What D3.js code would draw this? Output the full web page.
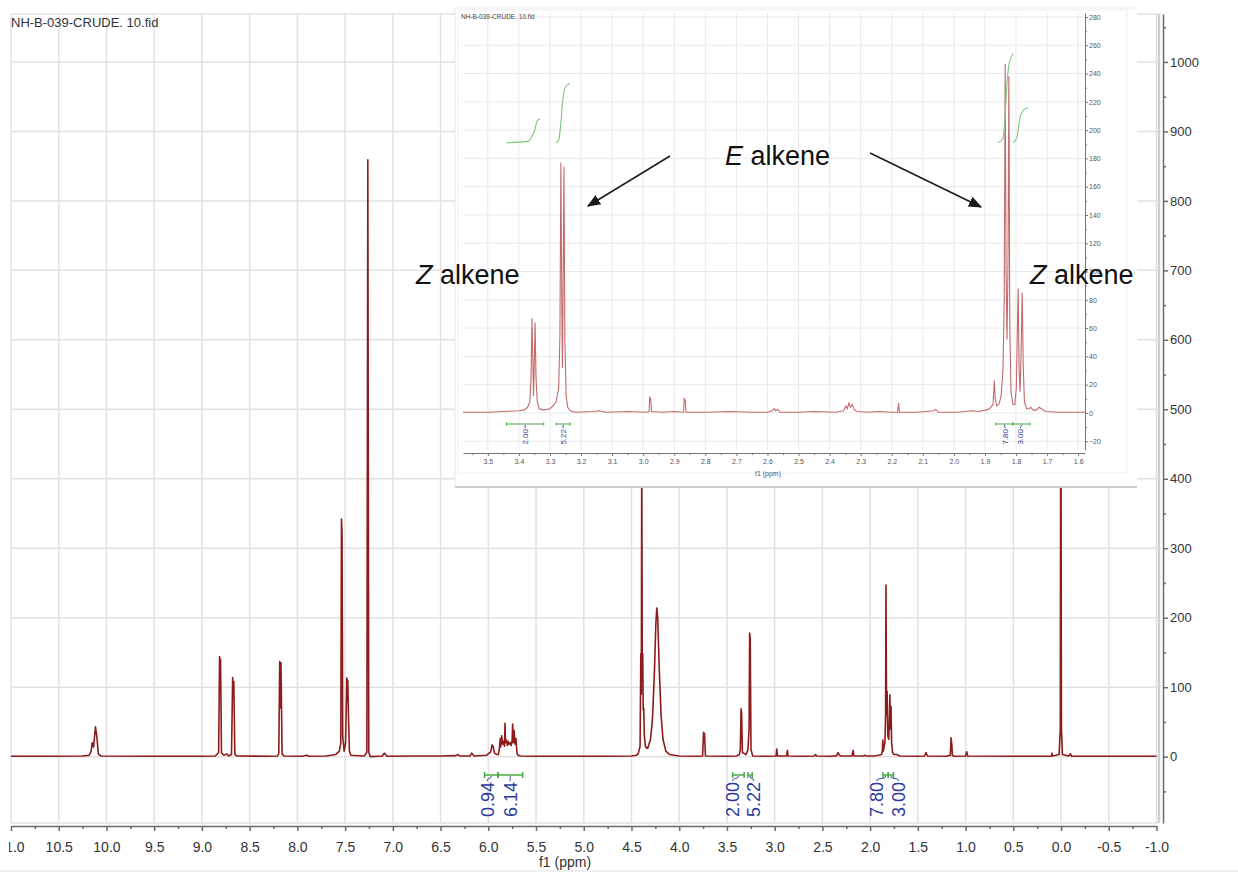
<!DOCTYPE html>
<html>
<head>
<meta charset="utf-8">
<script src="https://d3js.org/d3.v7.min.js"></script>
<style>
body { margin: 0; background: #fff; }
svg text { font-family: "Liberation Sans", Arial, sans-serif; }
</style>
</head>
<body>
<svg id="canvas" width="1238" height="874"></svg>
<script>
// ---- data ----
var mainTitle = 'NH-B-039-CRUDE. 10.fid';
var mainXTicks = [11.0, 10.5, 10.0, 9.5, 9.0, 8.5, 8.0, 7.5, 7.0, 6.5, 6.0, 5.5, 5.0, 4.5, 4.0, 3.5, 3.0, 2.5, 2.0, 1.5, 1.0, 0.5, 0.0, -0.5, -1.0];
var mainYTicks = [0, 100, 200, 300, 400, 500, 600, 700, 800, 900, 1000];
var insetXTicks = [3.5, 3.4, 3.3, 3.2, 3.1, 3.0, 2.9, 2.8, 2.7, 2.6, 2.5, 2.4, 2.3, 2.2, 2.1, 2.0, 1.9, 1.8, 1.7, 1.6];
var insetYTicks = [-20, 0, 20, 40, 60, 80, 100, 120, 140, 160, 180, 200, 220, 240, 260, 280];

// [ppm, intensity] as displayed in the full spectrum
var mainSpectrum = [
    [11.0, 0.5], [10.6, 0.5], [10.25, 1], [10.18, 2], [10.16, 8], [10.15, 20], [10.135, 14], [10.115, 43], [10.10, 28], [10.085, 4], [10.06, 1],
    [9.6, 0.5], [9.0, 0.5], [8.86, 1], [8.825, 6], [8.815, 144], [8.81, 118], [8.805, 140], [8.795, 5], [8.77, 2], [8.74, 4], [8.72, 1],
    [8.69, 3], [8.678, 114], [8.672, 96], [8.666, 108], [8.655, 3], [8.63, 1],
    [8.3, 0.5], [8.21, 1], [8.195, 4], [8.185, 137], [8.178, 70], [8.172, 135], [8.16, 4], [8.14, 1],
    [7.95, 0.5], [7.9, 2], [7.88, 0.5], [7.7, 1], [7.6, 3], [7.56, 8], [7.545, 20], [7.538, 342], [7.532, 320], [7.525, 30], [7.51, 8],
    [7.495, 20], [7.482, 113], [7.477, 80], [7.472, 110], [7.465, 60], [7.455, 8], [7.44, 2], [7.30, 1],
    [7.272, 6], [7.262, 859], [7.252, 6], [7.235, 0], [7.11, 1], [7.09, 5], [7.075, 3], [7.06, 0.5],
    [6.8, 1], [6.5, 1], [6.34, 1.5], [6.32, 3], [6.30, 1], [6.19, 1], [6.175, 5], [6.165, 4], [6.15, 1],
    [6.02, 2], [5.975, 7], [5.96, 17], [5.95, 15], [5.935, 5], [5.91, 3],
    [5.895, 3], [5.885, 10], [5.875, 26], [5.87, 14], [5.86, 30], [5.85, 18], [5.84, 22], [5.83, 15], [5.825, 48], [5.82, 20],
    [5.81, 24], [5.80, 16], [5.79, 22], [5.78, 18], [5.77, 20], [5.76, 16], [5.75, 24], [5.745, 47], [5.74, 20], [5.73, 38],
    [5.72, 18], [5.71, 26], [5.70, 6], [5.69, 2], [5.66, 1],
    [5.5, 0.5], [4.7, 0.5], [4.5, 1], [4.45, 2], [4.43, 4], [4.41, 15], [4.402, 148], [4.397, 90], [4.392, 450], [4.387, 120],
    [4.382, 148], [4.377, 67], [4.372, 70], [4.365, 30], [4.355, 15], [4.34, 12], [4.33, 12], [4.30, 25], [4.28, 55], [4.26, 120],
    [4.245, 190], [4.235, 214], [4.225, 200], [4.21, 130], [4.19, 60], [4.17, 25], [4.14, 8], [4.10, 3], [4.0, 1],
    [3.8, 0.5], [3.755, 1], [3.745, 35], [3.735, 33], [3.725, 1],
    [3.5, 0.5], [3.40, 1], [3.37, 3], [3.36, 10], [3.352, 69], [3.346, 62], [3.338, 6], [3.30, 3], [3.28, 10], [3.268, 40],
    [3.262, 178], [3.256, 170], [3.248, 10], [3.23, 1],
    [3.1, 0.5], [2.985, 1], [2.978, 11], [2.970, 1], [2.875, 1], [2.867, 9], [2.86, 1], [2.7, 0.5], [2.585, 1], [2.572, 3], [2.56, 1],
    [2.40, 0.5], [2.35, 1.5], [2.337, 6], [2.325, 3], [2.31, 1], [2.19, 1], [2.178, 9], [2.17, 1], [2.07, 1], [2.055, 2], [2.04, 1],
    [1.95, 1], [1.88, 3], [1.872, 8], [1.867, 24], [1.862, 8], [1.845, 20], [1.838, 60], [1.834, 247], [1.828, 60], [1.822, 94],
    [1.815, 30], [1.805, 25], [1.797, 60], [1.793, 89], [1.787, 40], [1.781, 72], [1.775, 20], [1.765, 6], [1.75, 3], [1.72, 3], [1.69, 1],
    [1.5, 0.5], [1.43, 1], [1.415, 6], [1.40, 1], [1.2, 0.5], [1.16, 2], [1.152, 27], [1.145, 18], [1.138, 2], [1.12, 0.5],
    [1.0, 1], [0.988, 7], [0.978, 1], [0.5, 0.5], [0.12, 0.5], [0.1, 1], [0.095, 5], [0.088, 1],
    [0.02, 3], [0.008, 40], [0.002, 620], [-0.004, 40], [-0.015, 3], [-0.08, 1], [-0.10, 4], [-0.11, 0.5], [-0.5, 0.5], [-1.0, 0.5]
];

// [ppm, intensity] in the zoomed inset (3.58 - 1.58 ppm)
var insetSpectrum = [
    [3.58, 0.5], [3.50, 0.5], [3.45, 1], [3.40, 1.5], [3.385, 2], [3.372, 4], [3.365, 8], [3.361, 25], [3.358, 67], [3.355, 35],
    [3.353, 12], [3.351, 30], [3.348, 64], [3.345, 25], [3.341, 8], [3.335, 3], [3.32, 2], [3.30, 3], [3.29, 5], [3.28, 8],
    [3.272, 18], [3.268, 55], [3.265, 177], [3.262, 80], [3.260, 32], [3.258, 80], [3.255, 174], [3.252, 50], [3.248, 12],
    [3.243, 4], [3.235, 1.5], [3.22, 0.5],
    [3.16, 1], [3.14, 1.5], [3.12, 0.5], [3.05, 1], [2.99, 0.5], [2.981, 1], [2.979, 11], [2.976, 10], [2.973, 1], [2.94, 0.5],
    [2.90, 1], [2.87, 0.5], [2.868, 10], [2.865, 9], [2.862, 0.5], [2.80, 0.5], [2.72, 1], [2.65, 0.5], [2.6, 0.5],
    [2.585, 1.5], [2.578, 3], [2.573, 1.5], [2.566, 2.5], [2.56, 0.5], [2.50, 0.5], [2.45, 1], [2.38, 0.5],
    [2.355, 1.5], [2.348, 5], [2.343, 3], [2.338, 7], [2.333, 4], [2.327, 6], [2.32, 2], [2.31, 1], [2.28, 0.5], [2.24, 1],
    [2.20, 0.5], [2.181, 0.5], [2.178, 7], [2.175, 0.5], [2.12, 0.5], [2.065, 1.5], [2.058, 2.5], [2.05, 0.5], [1.99, 0.5],
    [1.94, 1.5], [1.92, 1], [1.90, 2], [1.885, 3], [1.874, 6], [1.870, 23], [1.867, 10], [1.862, 5], [1.855, 6], [1.848, 12],
    [1.842, 30], [1.838, 80], [1.835, 247], [1.832, 100], [1.829, 52], [1.826, 100], [1.823, 238], [1.820, 60], [1.816, 15],
    [1.81, 6], [1.804, 6], [1.799, 18], [1.796, 55], [1.793, 88], [1.790, 30], [1.787, 15], [1.784, 40], [1.780, 85],
    [1.777, 35], [1.773, 8], [1.766, 3], [1.758, 3], [1.752, 4], [1.746, 2], [1.735, 2], [1.726, 4], [1.718, 3], [1.705, 1],
    [1.66, 0.5], [1.578, 0.5]
];

// green integral traces in the inset, [ppm, level]
var insetIntegralCurves = [
    [[3.44, 191], [3.37, 192], [3.355, 197], [3.349, 200], [3.342, 206], [3.333, 208]],
    [[3.281, 191], [3.272, 193], [3.265, 205], [3.259, 221], [3.249, 231], [3.236, 233]],
    [[1.858, 191], [1.842, 194], [1.835, 210], [1.829, 233], [1.822, 247], [1.809, 254]],
    [[1.809, 191], [1.797, 195], [1.787, 209], [1.777, 214], [1.761, 216]]
];

var integralValues = ['0.94', '6.14', '2.00', '5.22', '7.80', '3.00'];
var integralFrom = [6.04, 5.90, 3.44, 3.28, 1.865, 1.81];
var integralTo = [5.90, 5.64, 3.32, 3.235, 1.81, 1.755];
var mainLabelPpm = [6.01, 5.77, 3.44, 3.22, 1.93, 1.70];
var insetLabelPpm = [6.01, 5.77, 3.38, 3.258, 1.835, 1.786];

var RED = '#8e1b1b';
var INSET_RED = '#c26a6c';
var GREEN = '#44aa44';
var BLUE = '#2c3b9c';

function fmt1(d) { return d.toFixed(1); }

function drawIntegrals(g, xs, yBar, yLabel, labelPpm, fontSize, tickH, range) {
    "use strict";
    integralValues.forEach(function(val, i) {
        if (integralFrom[i] > range[0] || integralTo[i] < range[1]) { return; }
        var x0 = xs(integralFrom[i]), x1 = xs(integralTo[i]);
        var xc = (x0 + x1) / 2, xl = xs(labelPpm[i]);
        g.append('line').attr('x1', x0).attr('x2', x1).attr('y1', yBar).attr('y2', yBar)
            .attr('stroke', GREEN).attr('stroke-width', fontSize > 10 ? 1.5 : 1);
        [x0, x1].forEach(function(xe) {
            g.append('line').attr('x1', xe).attr('x2', xe).attr('y1', yBar - tickH).attr('y2', yBar + tickH)
                .attr('stroke', GREEN).attr('stroke-width', fontSize > 10 ? 1.5 : 1);
        });
        // connector / brace from bar to label
        g.append('path')
            .attr('d', 'M' + xc + ',' + (yBar + 1) + ' C' + xc + ',' + (yBar + (yLabel - yBar) * 0.7) + ' ' +
                xl + ',' + (yBar + (yLabel - yBar) * 0.3) + ' ' + xl + ',' + (yLabel - 1))
            .attr('fill', 'none').attr('stroke', BLUE).attr('stroke-width', 1);
        g.append('text')
            .attr('transform', 'translate(' + (xl + fontSize * 0.36) + ',' + yLabel + ') rotate(-90)')
            .attr('text-anchor', 'end')
            .attr('font-size', fontSize + 'px')
            .attr('font-family', '"DejaVu Sans", Verdana, sans-serif')
            .attr('fill', BLUE)
            .text(val);
    });
}

function drawMain(svg) {
    "use strict";
    var x = d3.scaleLinear().domain([11, -1]).range([11, 1156.5]);
    var y = d3.scaleLinear().domain([-95.5, 1069]).range([823, 14]);

    // grid
    var grid = svg.append('g').attr('stroke', '#e2e2e2').attr('stroke-width', 1.5);
    grid.selectAll('line.v').data(mainXTicks).enter().append('line')
        .attr('x1', function(d) { return x(d); }).attr('x2', function(d) { return x(d); })
        .attr('y1', 14).attr('y2', 823);
    grid.selectAll('line.h').data(mainYTicks.concat([1069, -95.5])).enter().append('line')
        .attr('x1', 11).attr('x2', 1159)
        .attr('y1', function(d) { return y(d); }).attr('y2', function(d) { return y(d); });
    svg.append('line').attr('x1', 1159).attr('x2', 1159).attr('y1', 14).attr('y2', 823)
        .attr('stroke', '#cfcfcf').attr('stroke-width', 2.5);

    svg.append('text').attr('x', 11).attr('y', 27).attr('font-size', '13px').attr('fill', '#333').text(mainTitle);

    // right intensity axis
    var ay = svg.append('g').attr('transform', 'translate(1163,0)')
        .call(d3.axisRight(y).tickValues(mainYTicks).tickSize(5).tickSizeOuter(0).tickPadding(2).tickFormat(d3.format('d')));
    svg.append('g').attr('transform', 'translate(1163,0)')
        .call(d3.axisRight(y).tickValues(d3.range(-50, 1069, 100)).tickSize(3).tickFormat(''))
        .select('.domain').remove();

    // bottom ppm axis
    var ax = svg.append('g').attr('transform', 'translate(0,826)')
        .call(d3.axisBottom(x).tickValues(mainXTicks).tickSize(5).tickSizeOuter(0).tickPadding(11).tickFormat(fmt1));
    svg.append('g').attr('transform', 'translate(0,826)')
        .call(d3.axisBottom(x).tickValues(d3.range(10.75, -1, -0.5)).tickSize(3).tickFormat(''))
        .select('.domain').remove();
    svg.selectAll('.tick line, .domain').attr('stroke', '#6a6a6a').attr('stroke-width', 1.5);
    ay.selectAll('text').attr('font-size', '13px').attr('fill', '#333').attr('font-family', '"Liberation Sans", Arial, sans-serif');
    ax.selectAll('text').attr('font-size', '14px').attr('fill', '#333').attr('font-family', '"Liberation Sans", Arial, sans-serif');
    svg.append('text').attr('x', 565).attr('y', 867).attr('text-anchor', 'middle')
        .attr('font-size', '14px').attr('fill', '#333').text('f1 (ppm)');

    // spectrum
    svg.append('clipPath').attr('id', 'mainClip').append('rect')
        .attr('x', 11).attr('y', 14).attr('width', 1148).attr('height', 809);
    var line = d3.line().x(function(d) { return x(d[0]); }).y(function(d) { return y(d[1]); });
    svg.append('path').datum(mainSpectrum)
        .attr('clip-path', 'url(#mainClip)')
        .attr('d', line).attr('fill', 'none').attr('stroke', RED).attr('stroke-width', 1.6)
        .attr('stroke-linejoin', 'round');

    drawIntegrals(svg.append('g'), x, 775, 782, mainLabelPpm, 18, 3, [11, -1]);

    // crop edge of the screenshot
    svg.append('rect').attr('x', 0).attr('y', 830).attr('width', 9).attr('height', 44).attr('fill', '#fff');
    svg.append('line').attr('x1', 0).attr('x2', 1238).attr('y1', 871).attr('y2', 871)
        .attr('stroke', '#f0f0f0').attr('stroke-width', 2);
}

function drawInset(svg) {
    "use strict";
    var g = svg.append('g');
    var ix = d3.scaleLinear().domain([3.58, 1.578]).range([463, 1085]);
    var iy = d3.scaleLinear().domain([-26.2, 282.8]).range([450, 13]);

    g.append('rect').attr('x', 455).attr('y', 8).attr('width', 682).attr('height', 479).attr('fill', '#fff');
    g.append('line').attr('x1', 455).attr('x2', 1137).attr('y1', 487).attr('y2', 487).attr('stroke', '#cdcdcd').attr('stroke-width', 2);
    g.append('line').attr('x1', 455).attr('x2', 455).attr('y1', 8).attr('y2', 487).attr('stroke', '#e8e8e8');
    g.append('line').attr('x1', 455).attr('x2', 1137).attr('y1', 8).attr('y2', 8).attr('stroke', '#ededed');
    g.append('rect').attr('x', 458).attr('y', 10).attr('width', 669).attr('height', 463)
        .attr('fill', 'none').attr('stroke', '#eeeeee');

    var grid = g.append('g').attr('stroke', '#e9e9e9').attr('stroke-width', 1);
    grid.selectAll('line.v').data(insetXTicks).enter().append('line')
        .attr('x1', function(d) { return ix(d); }).attr('x2', function(d) { return ix(d); })
        .attr('y1', 13).attr('y2', 450);
    grid.selectAll('line.h').data(insetYTicks).enter().append('line')
        .attr('x1', 463).attr('x2', 1085)
        .attr('y1', function(d) { return iy(d); }).attr('y2', function(d) { return iy(d); });

    g.append('text').attr('x', 461).attr('y', 19).attr('font-size', '6.5px').attr('fill', '#444').text(mainTitle);

    var ay = g.append('g').attr('transform', 'translate(1085,0)')
        .call(d3.axisRight(iy).tickValues(insetYTicks).tickSize(3).tickSizeOuter(0).tickPadding(1).tickFormat(d3.format('d')));
    g.append('g').attr('transform', 'translate(1085,0)')
        .call(d3.axisRight(iy).tickValues(d3.range(-10, 282, 20)).tickSize(2).tickFormat(''))
        .select('.domain').remove();
    var ax = g.append('g').attr('transform', 'translate(0,453)')
        .call(d3.axisBottom(ix).tickValues(insetXTicks).tickSize(3).tickSizeOuter(0).tickPadding(3).tickFormat(fmt1));
    g.append('g').attr('transform', 'translate(0,453)')
        .call(d3.axisBottom(ix).tickValues(d3.range(3.55, 1.58, -0.1)).tickSize(2).tickFormat(''))
        .select('.domain').remove();
    g.selectAll('.tick line, .domain').attr('stroke', '#777').attr('stroke-width', 1);
    g.selectAll('.tick text').attr('font-size', '7px').attr('fill', '#555')
        .attr('font-family', '"Liberation Sans", Arial, sans-serif');
    g.append('text').attr('x', 768).attr('y', 476).attr('text-anchor', 'middle')
        .attr('font-size', '7px').attr('fill', '#555').text('f1 (ppm)');

    g.append('clipPath').attr('id', 'insetClip').append('rect')
        .attr('x', 463).attr('y', 13).attr('width', 622).attr('height', 437);
    var line = d3.line().x(function(d) { return ix(d[0]); }).y(function(d) { return iy(d[1]); });
    g.append('path').datum(insetSpectrum).attr('clip-path', 'url(#insetClip)')
        .attr('d', line).attr('fill', 'none').attr('stroke', INSET_RED).attr('stroke-width', 1.1);

    var curve = d3.line().curve(d3.curveMonotoneX)
        .x(function(d) { return ix(d[0]); }).y(function(d) { return iy(d[1]); });
    g.selectAll('path.integral').data(insetIntegralCurves).enter().append('path')
        .attr('class', 'integral').attr('d', curve)
        .attr('fill', 'none').attr('stroke', '#7cc67c').attr('stroke-width', 1.1);

    drawIntegrals(g, ix, 424, 429, insetLabelPpm, 8, 1.5, [3.58, 1.578]);
}

function drawAnnotations(svg) {
    "use strict";
    svg.append('defs').append('marker').attr('id', 'head')
        .attr('viewBox', '0 0 10 10').attr('refX', 9).attr('refY', 5)
        .attr('markerWidth', 9).attr('markerHeight', 9).attr('orient', 'auto')
        .append('path').attr('d', 'M0,1 L10,5 L0,9 Z').attr('fill', '#1a1a1a');
    var arrows = [[670, 156, 588, 206], [870, 153, 981, 207]];
    arrows.forEach(function(a) {
        svg.append('line').attr('x1', a[0]).attr('y1', a[1]).attr('x2', a[2]).attr('y2', a[3])
            .attr('stroke', '#1a1a1a').attr('stroke-width', 1.5).attr('marker-end', 'url(#head)');
    });
    var labels = [['E', 725, 165], ['Z', 416, 284], ['Z', 1030, 284]];
    labels.forEach(function(l) {
        var t = svg.append('text').attr('x', l[1]).attr('y', l[2])
            .attr('font-family', '"Open Sans", "Noto Sans", sans-serif').attr('font-size', '27px').attr('fill', '#111');
        t.append('tspan').attr('font-style', 'italic').text(l[0]);
        t.append('tspan').text(' alkene');
    });
}

var svg = d3.select(document.getElementById('canvas'));
drawMain(svg);
drawInset(svg);
drawAnnotations(svg);
</script>
</body>
</html>
